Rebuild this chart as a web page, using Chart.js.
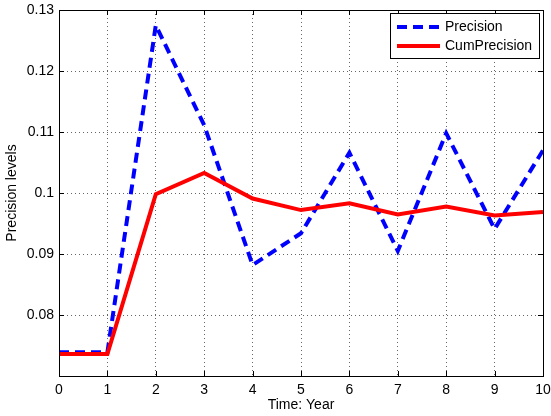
<!DOCTYPE html>
<html>
<head>
<meta charset="utf-8">
<script src="https://cdn.jsdelivr.net/npm/chart.js@4/dist/chart.umd.min.js"></script>
<style>
  html, body { margin: 0; padding: 0; background: #ffffff; }
  canvas { display: block; }
</style>
</head>
<body>
<canvas id="c" width="551" height="416"></canvas>
<script>
const xValues = [0, 1, 2, 3, 4, 5, 6, 7, 8, 9, 10];
const precision = [0.0739, 0.0739, 0.1275, 0.1111, 0.0882, 0.0934, 0.1066, 0.0905, 0.1098, 0.0941, 0.1070];
const cumPrecision = [0.0736, 0.0736, 0.0998, 0.1033, 0.0991, 0.0972, 0.0983, 0.0965, 0.0978, 0.0963, 0.0969];
const xTicks = [0, 1, 2, 3, 4, 5, 6, 7, 8, 9, 10];
const yTicks = [0.08, 0.09, 0.1, 0.11, 0.12, 0.13];
const seriesNames = ['Precision', 'CumPrecision'];
const xTitle = 'Time: Year';
const yTitle = 'Precision levels';

const FONT = 'Liberation Sans, Arial, Helvetica, sans-serif';

function toPoints(vals) { return xValues.map((x, i) => ({ x: x, y: vals[i] })); }

const boxPlugin = {
  id: 'matlabBox',
  afterDraw(chart) {
    const ctx = chart.ctx;
    const a = chart.chartArea;
    const xs = chart.scales.x, ys = chart.scales.y;
    ctx.save();
    ctx.strokeStyle = '#000';
    ctx.lineWidth = 1;
    const tl = 5;
    ctx.beginPath();
    xTicks.forEach(v => {
      const px = Math.round(xs.getPixelForValue(v)) + 0.5;
      ctx.moveTo(px, a.bottom); ctx.lineTo(px, a.bottom - tl);
      ctx.moveTo(px, a.top); ctx.lineTo(px, a.top + tl);
    });
    yTicks.forEach(v => {
      const py = Math.round(ys.getPixelForValue(v)) + 0.5;
      ctx.moveTo(a.left, py); ctx.lineTo(a.left + tl, py);
      ctx.moveTo(a.right, py); ctx.lineTo(a.right - tl, py);
    });
    ctx.stroke();
    ctx.strokeRect(Math.round(a.left) + 0.5, Math.round(a.top) + 0.5,
                   Math.round(a.right - a.left), Math.round(a.bottom - a.top));
    const lx = 390.5, ly = 13.5, lw = 149, lh = 45;
    ctx.fillStyle = '#fff';
    ctx.fillRect(lx, ly, lw, lh);
    ctx.strokeRect(lx, ly, lw, lh);
    const ds = chart.data.datasets;
    const rows = [27, 46];
    ds.forEach((d, i) => {
      ctx.beginPath();
      ctx.strokeStyle = d.borderColor;
      ctx.lineWidth = d.borderWidth;
      ctx.setLineDash(d.borderDash || []);
      ctx.moveTo(397, rows[i]); ctx.lineTo(440, rows[i]);
      ctx.stroke();
      ctx.setLineDash([]);
      ctx.fillStyle = '#000';
      ctx.font = '14px ' + FONT;
      ctx.textBaseline = 'middle';
      ctx.textAlign = 'left';
      ctx.fillText(d.label, 445, rows[i] + 0.5);
    });
    ctx.restore();
  }
};

new Chart(document.getElementById('c'), {
  type: 'line',
  data: {
    datasets: [
      {
        label: seriesNames[0],
        data: toPoints(precision),
        borderColor: '#0000ff',
        borderWidth: 4,
        borderDash: [10, 6],
        pointRadius: 0,
        fill: false,
        tension: 0,
        order: 1
      },
      {
        label: seriesNames[1],
        data: toPoints(cumPrecision),
        borderColor: '#ff0000',
        borderWidth: 4,
        pointRadius: 0,
        fill: false,
        tension: 0,
        order: 0
      }
    ]
  },
  options: {
    responsive: false,
    animation: false,
    devicePixelRatio: 1,
    layout: { padding: { left: 0, top: 10, right: 8, bottom: 0 } },
    plugins: { legend: { display: false }, tooltip: { enabled: false } },
    scales: {
      x: {
        type: 'linear',
        min: 0, max: 10,
        afterBuildTicks: s => { s.ticks = xTicks.map(v => ({ value: v })); },
        afterFit: s => { s.height = 40; s.paddingLeft = 0; s.paddingRight = 0; },
        grid: { color: '#666', lineWidth: 1, drawTicks: false },
        border: { display: false, dash: [1, 3] },
        ticks: { color: '#000', font: { family: FONT, size: 14 }, padding: 6, maxRotation: 0,
                 callback: v => String(v) },
        title: { display: true, text: xTitle, color: '#000', font: { family: FONT, size: 14 },
                 padding: { top: 0, bottom: 2 } }
      },
      y: {
        type: 'linear',
        min: 0.07, max: 0.13,
        afterBuildTicks: s => { s.ticks = yTicks.map(v => ({ value: v })); },
        afterFit: s => { s.width = 59; s.paddingTop = 0; s.paddingBottom = 0; },
        grid: { color: '#666', lineWidth: 1, drawTicks: false },
        border: { display: false, dash: [1, 3] },
        ticks: { color: '#000', font: { family: FONT, size: 14 }, padding: 5,
                 callback: v => String(v) },
        title: { display: true, text: yTitle, color: '#000', font: { family: FONT, size: 14 },
                 padding: { top: 4, bottom: 0 } }
      }
    }
  },
  plugins: [boxPlugin]
});
</script>
</body>
</html>
